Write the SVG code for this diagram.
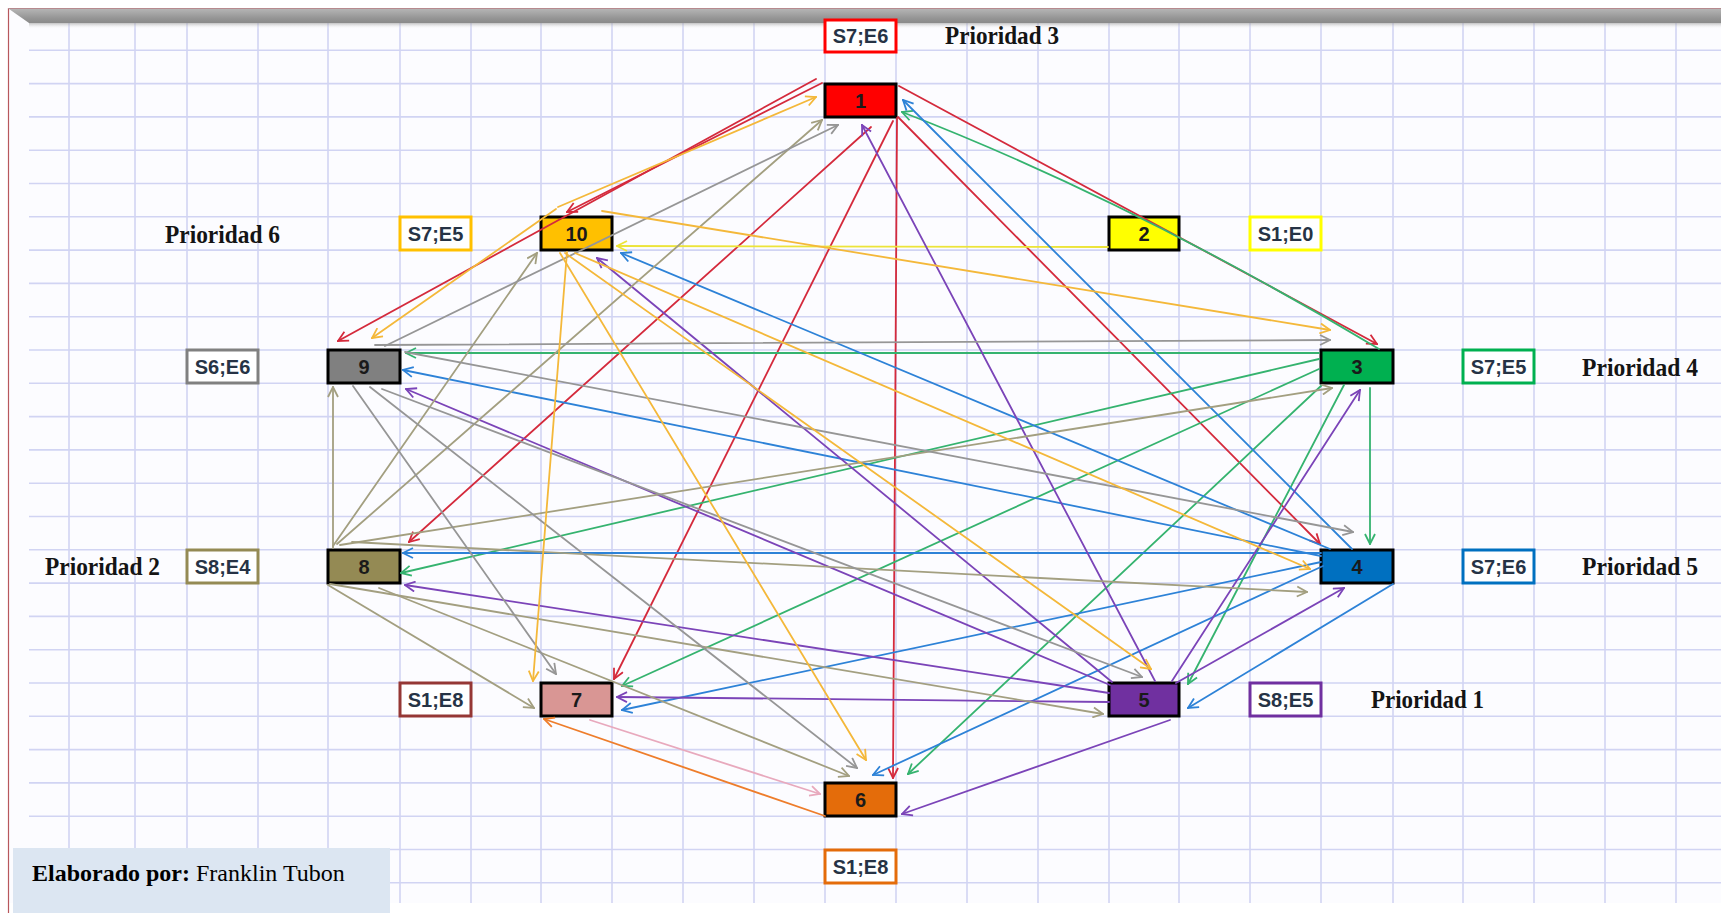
<svg xmlns="http://www.w3.org/2000/svg" width="1721" height="913" viewBox="0 0 1721 913">
  <style>
    .grid line { stroke: #d1d4f3; stroke-width: 1.6; }
    .node { stroke: #000; stroke-width: 3; }
    .lbl { fill: #fff; stroke-width: 3; }
    .num { font-family: "Liberation Sans", Arial, sans-serif; font-weight: bold; font-size: 20px; fill: #1a1a1a; text-anchor: middle; }
    .ltx { font-family: "Liberation Sans", Arial, sans-serif; font-weight: bold; font-size: 20px; fill: #263345; text-anchor: middle; }
    .pri { font-family: "Liberation Serif", "Times New Roman", serif; font-weight: bold; font-size: 26px; fill: #141414; }
    .c line, .c path { fill: none; stroke-width: 1.8; stroke-linecap: round; }
    .red { stroke: #d42a3c; marker-end: url(#ah-red); }
    .yel { stroke: #ece43a; marker-end: url(#ah-yel); }
    .grn { stroke: #35b36f; marker-end: url(#ah-grn); }
    .blu { stroke: #2d82d7; marker-end: url(#ah-blu); }
    .pur { stroke: #7b44b8; marker-end: url(#ah-pur); }
    .org { stroke: #ee7d2b; marker-end: url(#ah-org); }
    .pnk { stroke: #e8a9bd; marker-end: url(#ah-pnk); }
    .olv { stroke: #a39f80; marker-end: url(#ah-olv); }
    .gry { stroke: #969696; marker-end: url(#ah-gry); }
    .gld { stroke: #f4b83a; marker-end: url(#ah-gld); }
  </style>
  <defs>
    <linearGradient id="bar" x1="0" y1="0" x2="0" y2="1">
      <stop offset="0" stop-color="#b4b4b4"/>
      <stop offset="0.7" stop-color="#939393"/>
      <stop offset="1" stop-color="#8a8a8a"/>
    </linearGradient>
    <linearGradient id="barShade" x1="0" y1="0" x2="0" y2="1">
      <stop offset="0" stop-color="#9a9a9a" stop-opacity="0.6"/>
      <stop offset="1" stop-color="#ffffff" stop-opacity="0"/>
    </linearGradient>
    <marker id="ah-red" viewBox="0 0 12 12" refX="11" refY="6" markerWidth="12" markerHeight="12" markerUnits="userSpaceOnUse" orient="auto"><path d="M1,1 L11,6 L1,11" fill="none" stroke="#d42a3c" stroke-width="1.8"/></marker>
    <marker id="ah-yel" viewBox="0 0 12 12" refX="11" refY="6" markerWidth="12" markerHeight="12" markerUnits="userSpaceOnUse" orient="auto"><path d="M1,1 L11,6 L1,11" fill="none" stroke="#ece43a" stroke-width="1.8"/></marker>
    <marker id="ah-grn" viewBox="0 0 12 12" refX="11" refY="6" markerWidth="12" markerHeight="12" markerUnits="userSpaceOnUse" orient="auto"><path d="M1,1 L11,6 L1,11" fill="none" stroke="#35b36f" stroke-width="1.8"/></marker>
    <marker id="ah-blu" viewBox="0 0 12 12" refX="11" refY="6" markerWidth="12" markerHeight="12" markerUnits="userSpaceOnUse" orient="auto"><path d="M1,1 L11,6 L1,11" fill="none" stroke="#2d82d7" stroke-width="1.8"/></marker>
    <marker id="ah-pur" viewBox="0 0 12 12" refX="11" refY="6" markerWidth="12" markerHeight="12" markerUnits="userSpaceOnUse" orient="auto"><path d="M1,1 L11,6 L1,11" fill="none" stroke="#7b44b8" stroke-width="1.8"/></marker>
    <marker id="ah-org" viewBox="0 0 12 12" refX="11" refY="6" markerWidth="12" markerHeight="12" markerUnits="userSpaceOnUse" orient="auto"><path d="M1,1 L11,6 L1,11" fill="none" stroke="#ee7d2b" stroke-width="1.8"/></marker>
    <marker id="ah-pnk" viewBox="0 0 12 12" refX="11" refY="6" markerWidth="12" markerHeight="12" markerUnits="userSpaceOnUse" orient="auto"><path d="M1,1 L11,6 L1,11" fill="none" stroke="#e8a9bd" stroke-width="1.8"/></marker>
    <marker id="ah-olv" viewBox="0 0 12 12" refX="11" refY="6" markerWidth="12" markerHeight="12" markerUnits="userSpaceOnUse" orient="auto"><path d="M1,1 L11,6 L1,11" fill="none" stroke="#a39f80" stroke-width="1.8"/></marker>
    <marker id="ah-gry" viewBox="0 0 12 12" refX="11" refY="6" markerWidth="12" markerHeight="12" markerUnits="userSpaceOnUse" orient="auto"><path d="M1,1 L11,6 L1,11" fill="none" stroke="#969696" stroke-width="1.8"/></marker>
    <marker id="ah-gld" viewBox="0 0 12 12" refX="11" refY="6" markerWidth="12" markerHeight="12" markerUnits="userSpaceOnUse" orient="auto"><path d="M1,1 L11,6 L1,11" fill="none" stroke="#f4b83a" stroke-width="1.8"/></marker>
  </defs>

  <!-- sheet background -->
  <rect x="0" y="0" width="1721" height="913" fill="#ffffff"/>
  <rect x="9" y="9" width="1712" height="894" fill="#fcfcff"/>

  <!-- spreadsheet grid -->
  <g class="grid" id="grid">
    <line x1="69" y1="23" x2="69" y2="903"/>
    <line x1="135" y1="23" x2="135" y2="903"/>
    <line x1="187" y1="23" x2="187" y2="903"/>
    <line x1="258" y1="23" x2="258" y2="903"/>
    <line x1="328" y1="23" x2="328" y2="903"/>
    <line x1="400" y1="23" x2="400" y2="903"/>
    <line x1="471" y1="23" x2="471" y2="903"/>
    <line x1="541" y1="23" x2="541" y2="903"/>
    <line x1="612" y1="23" x2="612" y2="903"/>
    <line x1="683" y1="23" x2="683" y2="903"/>
    <line x1="754" y1="23" x2="754" y2="903"/>
    <line x1="825" y1="23" x2="825" y2="903"/>
    <line x1="896" y1="23" x2="896" y2="903"/>
    <line x1="967" y1="23" x2="967" y2="903"/>
    <line x1="1038" y1="23" x2="1038" y2="903"/>
    <line x1="1109" y1="23" x2="1109" y2="903"/>
    <line x1="1179" y1="23" x2="1179" y2="903"/>
    <line x1="1250" y1="23" x2="1250" y2="903"/>
    <line x1="1321" y1="23" x2="1321" y2="903"/>
    <line x1="1393" y1="23" x2="1393" y2="903"/>
    <line x1="1463" y1="23" x2="1463" y2="903"/>
    <line x1="1534" y1="23" x2="1534" y2="903"/>
    <line x1="1605" y1="23" x2="1605" y2="903"/>
    <line x1="1676" y1="23" x2="1676" y2="903"/>
    <line x1="29" y1="50.3" x2="1721" y2="50.3"/>
    <line x1="29" y1="83.6" x2="1721" y2="83.6"/>
    <line x1="29" y1="116.9" x2="1721" y2="116.9"/>
    <line x1="29" y1="150.2" x2="1721" y2="150.2"/>
    <line x1="29" y1="183.5" x2="1721" y2="183.5"/>
    <line x1="29" y1="216.8" x2="1721" y2="216.8"/>
    <line x1="29" y1="250.1" x2="1721" y2="250.1"/>
    <line x1="29" y1="283.4" x2="1721" y2="283.4"/>
    <line x1="29" y1="316.7" x2="1721" y2="316.7"/>
    <line x1="29" y1="350" x2="1721" y2="350"/>
    <line x1="29" y1="383.3" x2="1721" y2="383.3"/>
    <line x1="29" y1="416.6" x2="1721" y2="416.6"/>
    <line x1="29" y1="449.9" x2="1721" y2="449.9"/>
    <line x1="29" y1="483.2" x2="1721" y2="483.2"/>
    <line x1="29" y1="516.5" x2="1721" y2="516.5"/>
    <line x1="29" y1="549.8" x2="1721" y2="549.8"/>
    <line x1="29" y1="583.1" x2="1721" y2="583.1"/>
    <line x1="29" y1="616.4" x2="1721" y2="616.4"/>
    <line x1="29" y1="649.7" x2="1721" y2="649.7"/>
    <line x1="29" y1="683" x2="1721" y2="683"/>
    <line x1="29" y1="716.3" x2="1721" y2="716.3"/>
    <line x1="29" y1="749.6" x2="1721" y2="749.6"/>
    <line x1="29" y1="782.9" x2="1721" y2="782.9"/>
    <line x1="29" y1="816.2" x2="1721" y2="816.2"/>
    <line x1="29" y1="849.5" x2="1721" y2="849.5"/>
    <line x1="29" y1="882.8" x2="1721" y2="882.8"/>
  </g>
  <rect x="0" y="903" width="1721" height="10" fill="#ffffff"/>

  <!-- frame and bevelled header bar -->
  <line x1="8.5" y1="8" x2="8.5" y2="913" stroke="#b8575c" stroke-width="1.2"/>
  <line x1="8" y1="8.5" x2="1721" y2="8.5" stroke="#b78a8e" stroke-width="1"/>
  <rect x="29" y="23" width="1692" height="6" fill="url(#barShade)"/>
  <polygon points="9,9 1721,9 1721,23 29,23" fill="url(#bar)"/>

  <!-- author note -->
  <g id="credit">
    <rect x="13" y="848" width="377" height="65" fill="#dce6f2"/>
    <text x="32" y="881" font-family="'Liberation Serif', 'Times New Roman', serif" font-size="24" fill="#000"><tspan font-weight="bold">Elaborado por:</tspan> Franklin Tubon</text>
  </g>

  <!-- priority captions -->
  <g id="priorities">
    <text class="pri" x="945" y="44" textLength="114" lengthAdjust="spacingAndGlyphs">Prioridad 3</text>
    <text class="pri" x="165" y="243" textLength="115" lengthAdjust="spacingAndGlyphs">Prioridad 6</text>
    <text class="pri" x="1582" y="376" textLength="116" lengthAdjust="spacingAndGlyphs">Prioridad 4</text>
    <text class="pri" x="1582" y="575" textLength="116" lengthAdjust="spacingAndGlyphs">Prioridad 5</text>
    <text class="pri" x="45" y="575" textLength="115" lengthAdjust="spacingAndGlyphs">Prioridad 2</text>
    <text class="pri" x="1371" y="708" textLength="113" lengthAdjust="spacingAndGlyphs">Prioridad 1</text>
  </g>

  <!-- output/input count tags -->
  <g id="tag-1"><rect class="lbl" x="825" y="20" width="71" height="32" stroke="#ff0000"/><text class="ltx" x="860.5" y="43">S7;E6</text></g>
  <g id="tag-2"><rect class="lbl" x="1250" y="217" width="71" height="33" stroke="#ffff00"/><text class="ltx" x="1285.5" y="241">S1;E0</text></g>
  <g id="tag-3"><rect class="lbl" x="1463" y="350" width="71" height="33" stroke="#00b050"/><text class="ltx" x="1498.5" y="374">S7;E5</text></g>
  <g id="tag-4"><rect class="lbl" x="1463" y="550" width="71" height="33" stroke="#0070c0"/><text class="ltx" x="1498.5" y="574">S7;E6</text></g>
  <g id="tag-5"><rect class="lbl" x="1250" y="683" width="71" height="33" stroke="#7030a0"/><text class="ltx" x="1285.5" y="707">S8;E5</text></g>
  <g id="tag-6"><rect class="lbl" x="825" y="850" width="71" height="33" stroke="#e46c0a"/><text class="ltx" x="860.5" y="874">S1;E8</text></g>
  <g id="tag-7"><rect class="lbl" x="400" y="683" width="71" height="33" stroke="#953735"/><text class="ltx" x="435.5" y="707">S1;E8</text></g>
  <g id="tag-8"><rect class="lbl" x="187" y="550" width="71" height="33" stroke="#948a54"/><text class="ltx" x="222.5" y="574">S8;E4</text></g>
  <g id="tag-9"><rect class="lbl" x="187" y="350" width="71" height="33" stroke="#808080"/><text class="ltx" x="222.5" y="374">S6;E6</text></g>
  <g id="tag-10"><rect class="lbl" x="400" y="217" width="71" height="33" stroke="#ffc000"/><text class="ltx" x="435.5" y="241">S7;E5</text></g>

  <!-- activity nodes -->
  <g id="node-1"><rect class="node" x="825" y="84" width="71" height="33" fill="#ff0000"/><text class="num" x="860.5" y="108">1</text></g>
  <g id="node-2"><rect class="node" x="1109" y="217" width="70" height="33" fill="#ffff00"/><text class="num" x="1144" y="241">2</text></g>
  <g id="node-3"><rect class="node" x="1321" y="350" width="72" height="33" fill="#00b050"/><text class="num" x="1357" y="374">3</text></g>
  <g id="node-4"><rect class="node" x="1321" y="550" width="72" height="33" fill="#0070c0"/><text class="num" x="1357" y="574">4</text></g>
  <g id="node-5"><rect class="node" x="1109" y="683" width="70" height="33" fill="#7030a0"/><text class="num" x="1144" y="707">5</text></g>
  <g id="node-6"><rect class="node" x="825" y="783" width="71" height="33" fill="#e46c0a"/><text class="num" x="860.5" y="807">6</text></g>
  <g id="node-7"><rect class="node" x="541" y="683" width="71" height="33" fill="#d99694"/><text class="num" x="576.5" y="707">7</text></g>
  <g id="node-8"><rect class="node" x="328" y="550" width="72" height="33" fill="#948a54"/><text class="num" x="364" y="574">8</text></g>
  <g id="node-9"><rect class="node" x="328" y="350" width="72" height="33" fill="#808080"/><text class="num" x="364" y="374">9</text></g>
  <g id="node-10"><rect class="node" x="541" y="217" width="71" height="33" fill="#ffc000"/><text class="num" x="576.5" y="241">10</text></g>

  <!-- precedence connectors, coloured by source node -->
  <g id="connectors" class="c">
    <!-- from 1 -->
    <line class="red" x1="822" y1="83" x2="567" y2="212"/>
    <line class="red" x1="816" y1="79" x2="338" y2="341"/>
    <line class="red" x1="899" y1="86" x2="1377" y2="344"/>
    <line class="red" x1="898" y1="117" x2="1320" y2="544"/>
    <line class="red" x1="897" y1="118" x2="893" y2="778"/>
    <line class="red" x1="893" y1="121" x2="614" y2="679"/>
    <line class="red" x1="871" y1="127" x2="409" y2="542"/>
    <!-- from 2 -->
    <line class="yel" x1="1108" y1="247" x2="617" y2="246"/>
    <!-- from 3 -->
    <path class="grn" d="M1379,349 Q1130,200 902,112"/>
    <line class="grn" x1="1319" y1="353" x2="406" y2="353"/>
    <line class="grn" x1="1319" y1="359" x2="401" y2="573"/>
    <line class="grn" x1="1319" y1="369" x2="622" y2="686"/>
    <line class="grn" x1="1322" y1="385" x2="908" y2="774"/>
    <line class="grn" x1="1344" y1="385" x2="1188" y2="684"/>
    <line class="grn" x1="1370" y1="388" x2="1370" y2="544"/>
    <!-- from 4 -->
    <line class="blu" x1="1352" y1="549" x2="903" y2="100"/>
    <line class="blu" x1="1330" y1="549" x2="621" y2="253"/>
    <line class="blu" x1="1321" y1="556" x2="403" y2="370"/>
    <line class="blu" x1="1321" y1="553" x2="403" y2="553"/>
    <line class="blu" x1="1321" y1="562" x2="622" y2="710"/>
    <line class="blu" x1="1323" y1="566" x2="873" y2="775"/>
    <line class="blu" x1="1393" y1="584" x2="1188" y2="708"/>
    <!-- from 5 -->
    <line class="pur" x1="1155" y1="681" x2="862" y2="125"/>
    <line class="pur" x1="1112" y1="682" x2="597" y2="258"/>
    <line class="pur" x1="1110" y1="685" x2="406" y2="389"/>
    <line class="pur" x1="1109" y1="693" x2="405" y2="585"/>
    <line class="pur" x1="1109" y1="702" x2="617" y2="697"/>
    <line class="pur" x1="1170" y1="720" x2="902" y2="814"/>
    <line class="pur" x1="1172" y1="681" x2="1360" y2="390"/>
    <line class="pur" x1="1176" y1="683" x2="1344" y2="588"/>
    <!-- from 6 -->
    <line class="org" x1="825" y1="816" x2="544" y2="719"/>
    <!-- from 7 -->
    <line class="pnk" x1="590" y1="720" x2="820" y2="794"/>
    <!-- from 8 -->
    <line class="olv" x1="333" y1="548" x2="333" y2="387"/>
    <line class="olv" x1="333" y1="546" x2="537" y2="253"/>
    <line class="olv" x1="337" y1="544" x2="822" y2="120"/>
    <line class="olv" x1="340" y1="545" x2="1332" y2="388"/>
    <line class="olv" x1="352" y1="542" x2="1307" y2="592"/>
    <line class="olv" x1="330" y1="584" x2="1103" y2="714"/>
    <line class="olv" x1="328" y1="585" x2="534" y2="708"/>
    <line class="olv" x1="379" y1="588" x2="849" y2="776"/>
    <!-- from 9 -->
    <line class="gry" x1="385" y1="346" x2="838" y2="125"/>
    <line class="gry" x1="375" y1="345" x2="1330" y2="340"/>
    <line class="gry" x1="405" y1="352" x2="1353" y2="532"/>
    <line class="gry" x1="382" y1="389" x2="1142" y2="677"/>
    <line class="gry" x1="353" y1="386" x2="556" y2="674"/>
    <line class="gry" x1="370" y1="387" x2="857" y2="768"/>
    <!-- from 10 -->
    <line class="gld" x1="558" y1="207" x2="816" y2="97"/>
    <line class="gld" x1="556" y1="209" x2="372" y2="338"/>
    <line class="gld" x1="602" y1="211" x2="1330" y2="330"/>
    <line class="gld" x1="575" y1="253" x2="1310" y2="569"/>
    <line class="gld" x1="565" y1="253" x2="1151" y2="669"/>
    <line class="gld" x1="567" y1="252" x2="533" y2="681"/>
    <line class="gld" x1="560" y1="253" x2="866" y2="760"/>
  </g>
</svg>
